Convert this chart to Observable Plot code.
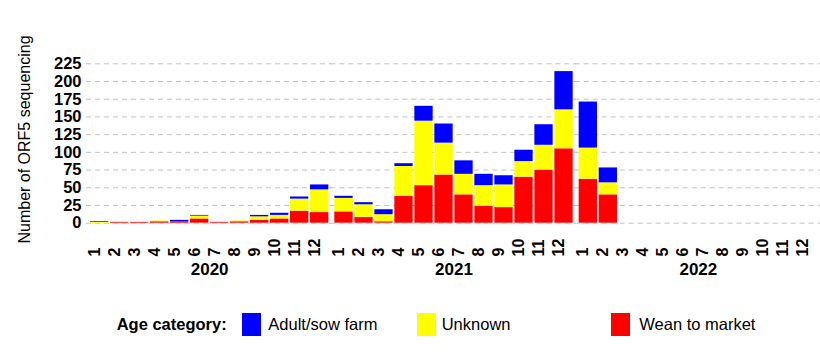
<!DOCTYPE html>
<html>
<head>
<meta charset="utf-8">
<script src="https://cdn.jsdelivr.net/npm/d3@7"></script>
<script src="https://cdn.jsdelivr.net/npm/@observablehq/plot@0.6"></script>
<style>
  body { margin: 0; background: #fff; font-family: "Liberation Sans", Arial, sans-serif; }
  #wrap { width: 820px; height: 364px; position: relative; overflow: hidden; }
  #legend { position: relative; width: 820px; height: 72px; }
  #legend .t { position: absolute; top: 21.6px; font-size: 16.5px; line-height: 20px; color: #000; white-space: nowrap; }
  #legend .b { font-weight: bold; }
  #legend .sw { position: absolute; top: 20.7px; height: 23.3px; width: 19px; }
</style>
</head>
<body>
<div id="wrap">
  <div id="chart"></div>
  <div id="legend"></div>
</div>
<script>
const years = [2020, 2021, 2022];
const months = [1, 2, 3, 4, 5, 6, 7, 8, 9, 10, 11, 12];
const categories = ["Adult/sow farm", "Unknown", "Wean to market"];
const categoryColors = ["#0000ff", "#ffff00", "#ff0000"];
const yTicks = [0, 25, 50, 75, 100, 125, 150, 175, 200, 225];
const yTitle = "Number of ORF5 sequencing";
const legendTitle = "Age category:";

// Monthly counts, Jan 2020 .. Dec 2022
const weanToMarket = [
  0, 1, 1, 2, 2, 6, 1, 2, 4, 6, 17, 15,
  16, 8, 2, 38, 53, 68, 40, 24, 22, 65, 75, 105,
  62, 40, 0, 0, 0, 0, 0, 0, 0, 0, 0, 0
];
const unknown = [
  1, 1, 1, 1, 0, 4, 1, 1, 5, 5, 17, 32,
  19, 18, 10, 42, 91, 45, 29, 29, 32, 22, 35, 55,
  44, 17, 0, 0, 0, 0, 0, 0, 0, 0, 0, 0
];
const adultSow = [
  1, 0, 0, 0, 2, 1, 0, 0, 2, 3, 3, 7,
  3, 3, 7, 4, 21, 27, 19, 16, 13, 16, 29, 54,
  65, 21, 0, 0, 0, 0, 0, 0, 0, 0, 0, 0
];

const rows = [];
const ticks = [];
years.forEach((yr, yi) => {
  months.forEach((m, mi) => {
    const i = yi * 12 + mi;
    rows.push({year: yr, month: m, category: "Wean to market", count: weanToMarket[i]});
    rows.push({year: yr, month: m, category: "Unknown", count: unknown[i]});
    rows.push({year: yr, month: m, category: "Adult/sow farm", count: adultSow[i]});
    ticks.push({year: yr, month: m});
  });
});

const chart = Plot.plot({
  width: 820,
  height: 292,
  marginLeft: 90,
  marginRight: 3,
  marginTop: 63.3,
  marginBottom: 69.3,
  style: {fontFamily: "'Liberation Sans', Arial, sans-serif", background: "#fff", color: "#000"},
  fx: {domain: years, paddingInner: 0.0246, paddingOuter: 0, round: false, label: null},
  x: {domain: months, paddingInner: 0.085, paddingOuter: 0, round: false, axis: null},
  y: {domain: [0, 225], axis: null},
  color: {domain: categories, range: categoryColors},
  marks: [
    Plot.ruleY(yTicks, {stroke: "#c2c2c2", strokeWidth: 1, strokeDasharray: "5,4", insetLeft: -4, insetRight: -3}),
    Plot.barY(rows, {fx: "year", x: "month", y: "count", fill: "category"}),
    Plot.axisY({ticks: yTicks, tickSize: 0, tickPadding: 9, fontSize: 16.5, fontWeight: "bold", label: null}),
    Plot.text(ticks, {fx: "year", x: "month", text: d => String(d.month), frameAnchor: "bottom", rotate: -90, textAnchor: "start", dy: 33.3, fontSize: 16, fontWeight: "bold"}),
    Plot.axisFx({anchor: "bottom", tickSize: 0, tickPadding: 40, fontSize: 17, fontWeight: "bold", label: null, tickFormat: d => String(d)}),
    Plot.text([yTitle], {fx: () => 2020, text: d => d, frameAnchor: "left", textAnchor: "middle", rotate: -90, dx: -65.5, dy: -4, fontSize: 16})
  ]
});
document.getElementById("chart").appendChild(chart);

// Legend (HTML, below the SVG)
const legend = document.getElementById("legend");
const lt = document.createElement("span");
lt.className = "t b"; lt.style.left = "116.7px"; lt.textContent = legendTitle;
legend.appendChild(lt);
const swLeft = [241.7, 416.7, 611];
const txLeft = [268.3, 441.7, 639.3];
categories.forEach((c, i) => {
  const sw = document.createElement("span");
  sw.className = "sw"; sw.style.left = swLeft[i] + "px"; sw.style.background = categoryColors[i];
  legend.appendChild(sw);
  const t = document.createElement("span");
  t.className = "t"; t.style.left = txLeft[i] + "px"; t.textContent = c;
  legend.appendChild(t);
});
</script>
</body>
</html>
